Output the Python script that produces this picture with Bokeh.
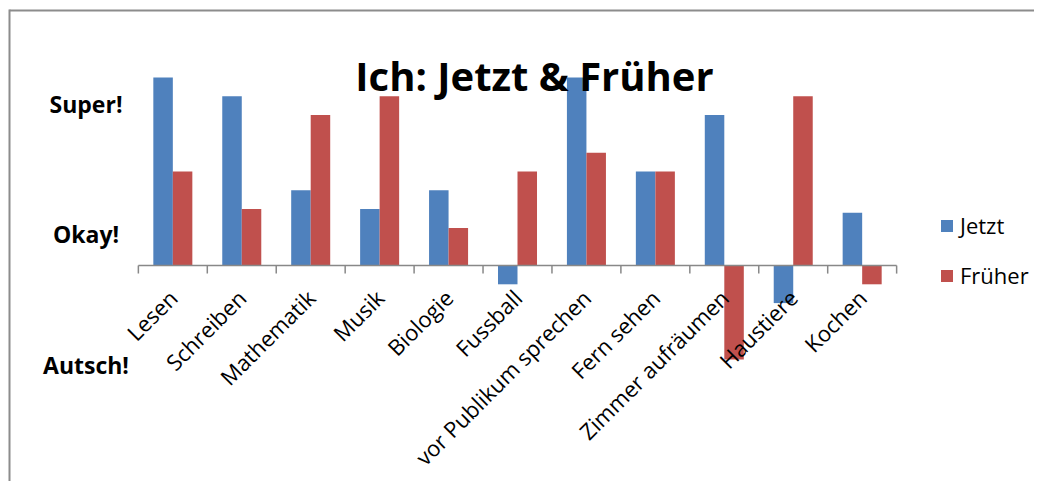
import math
from bokeh.plotting import figure
from bokeh.models import (ColumnDataSource, FactorRange, Range1d, Legend, LegendItem,
                          Label, LabelSet, BoxAnnotation)
from bokeh.transform import dodge
from bokeh.core.properties import value
from bokeh.embed import file_html
from bokeh.resources import INLINE

# ---- data ----
categories = ["Lesen", "Schreiben", "Mathematik", "Musik", "Biologie", "Fussball",
              "vor Publikum sprechen", "Fern sehen", "Zimmer aufräumen", "Haustiere", "Kochen"]
jetzt = [10, 9, 4, 3, 4, -1, 10, 5, 8, -2, 2.8]
frueher = [5, 3, 8, 9, 2, 5, 6, 5, -5, 9, -1]
series_names = ["Jetzt", "Früher"]
series_colors = ["#4F81BD", "#C0504D"]
level_labels = ["Super!", "Okay!", "Autsch!"]
level_values = [8.6, 1.7, -5.3]
title_text = "Ich: Jetzt & Früher"

# ---- layout ----
W, H = 1034, 481
PX = 18.8          # pixels per unit
ZERO = 265         # canvas y of the zero line
y_end = ZERO / PX
y_start = -(H - ZERO) / PX
FONT = "Open Sans"
GRAY = "#888888"
BORDER = "#8c8c8c"

p = figure(x_range=FactorRange(factors=categories, range_padding=2.0,
                               range_padding_units="absolute"),
           y_range=Range1d(y_start, y_end),
           width=W, height=H, output_backend="svg", toolbar_location=None,
           y_axis_location=None,
           min_border_left=0, min_border_right=0,
           min_border_top=0, min_border_bottom=0)
p.outline_line_color = None
p.xgrid.visible = False
p.ygrid.visible = False
p.background_fill_color = "white"
p.border_fill_color = "white"

src = ColumnDataSource(dict(cats=categories, jetzt=jetzt, frueher=frueher))
bw = 0.283
r1 = p.vbar(x=dodge("cats", -bw / 2, range=p.x_range), top="jetzt", bottom=0, width=bw,
            source=src, fill_color=series_colors[0], line_color=None)
r2 = p.vbar(x=dodge("cats", bw / 2, range=p.x_range), top="frueher", bottom=0, width=bw,
            source=src, fill_color=series_colors[1], line_color=None)

# category axis placed at zero (labels only; the line is drawn over the categories)
ax = p.xaxis[0]
ax.fixed_location = 0
ax.axis_line_color = None
ax.major_tick_in = 0
ax.major_tick_out = 0
ax.major_label_orientation = math.pi / 4
ax.major_label_text_font = FONT
ax.major_label_text_font_size = "22px"
ax.major_label_text_color = "black"
ax.major_label_standoff = 28

# axis line spanning the categories
line_src = ColumnDataSource(dict(a=categories[:1], b=categories[-1:]))
p.segment(x0=dodge("a", -0.5, range=p.x_range), x1=dodge("b", 0.5, range=p.x_range),
          y0=0, y1=0, source=line_src, line_color=GRAY, line_width=1.5)

# boundary tick marks
tick_src = ColumnDataSource(dict(cats=categories))
last_src = ColumnDataSource(dict(cats=categories[-1:]))
TL = 0.43
p.segment(x0=dodge("cats", -0.5, range=p.x_range), x1=dodge("cats", -0.5, range=p.x_range),
          y0=0, y1=-TL, source=tick_src, line_color=GRAY, line_width=1.5)
p.segment(x0=dodge("cats", 0.5, range=p.x_range), x1=dodge("cats", 0.5, range=p.x_range),
          y0=0, y1=-TL, source=last_src, line_color=GRAY, line_width=1.5)

# legend
legend = Legend(items=[LegendItem(label=series_names[0], renderers=[r1]),
                       LegendItem(label=series_names[1], renderers=[r2])],
                location=(939, H - 290), orientation="vertical",
                glyph_width=15, glyph_height=15, label_standoff=6,
                label_text_font=FONT, label_text_font_size="22px",
                label_text_color="black",
                spacing=20, padding=0, margin=0,
                border_line_color=None, background_fill_alpha=0)
p.add_layout(legend)

# title
p.add_layout(Label(x=534, y=10.1, x_units="screen", text=title_text,
                   text_align="center", text_baseline="alphabetic", text_color="black",
                   text_font=FONT, text_font_style="bold", text_font_size="40px"))

# level labels
lvl_src = ColumnDataSource(dict(x=[85.5] * len(level_labels), y=level_values, text=level_labels))
p.add_layout(LabelSet(x="x", y="y", text="text", source=lvl_src, x_units="screen",
                      text_align="center", text_baseline="middle", text_color="black",
                      text_font=value(FONT), text_font_style="bold", text_font_size="23px"))

# chart border (top and left edges only)
p.add_layout(BoxAnnotation(left=9, right=3000, top=9, bottom=11,
                           left_units="canvas", right_units="canvas",
                           top_units="canvas", bottom_units="canvas",
                           fill_color=BORDER, fill_alpha=1, line_color=None))
p.add_layout(BoxAnnotation(left=8, right=10, top=9, bottom=3000,
                           left_units="canvas", right_units="canvas",
                           top_units="canvas", bottom_units="canvas",
                           fill_color=BORDER, fill_alpha=1, line_color=None))

open("out.html", "w").write(file_html(p, INLINE))
